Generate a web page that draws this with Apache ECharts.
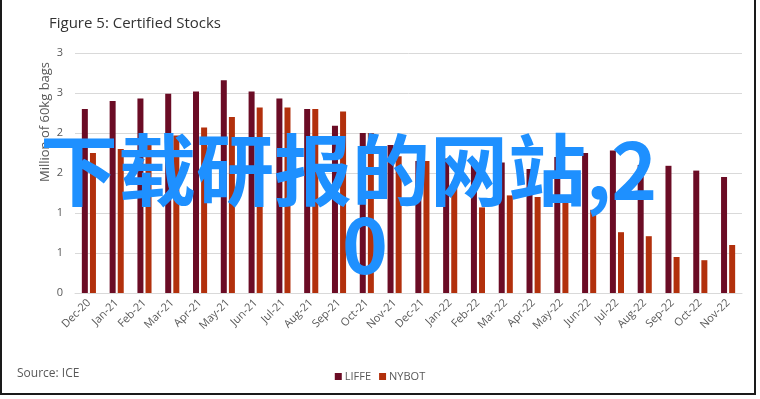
<!DOCTYPE html>
<html>
<head>
<meta charset="utf-8">
<script src="https://cdn.jsdelivr.net/npm/echarts@6/dist/echarts.min.js"></script>
<style>
  html, body { margin: 0; padding: 0; background: #fff; }
  #chart { width: 760px; height: 399px; }
</style>
</head>
<body>
<div id="chart"></div>
<script>
const months = ['Dec-20', 'Jan-21', 'Feb-21', 'Mar-21', 'Apr-21', 'May-21', 'Jun-21', 'Jul-21',
  'Aug-21', 'Sep-21', 'Oct-21', 'Nov-21', 'Dec-21', 'Jan-22', 'Feb-22', 'Mar-22', 'Apr-22',
  'May-22', 'Jun-22', 'Jul-22', 'Aug-22', 'Sep-22', 'Oct-22', 'Nov-22'];
const liffe = [2.30, 2.40, 2.43, 2.49, 2.52, 2.66, 2.52, 2.43, 2.30, 2.09, 2.00, 1.85,
  1.65, 1.68, 1.66, 1.63, 1.55, 1.70, 1.75, 1.78, 1.60, 1.59, 1.53, 1.45];
const nybot = [1.75, 1.80, 1.85, 1.97, 2.07, 2.20, 2.32, 2.32, 2.30, 2.27, 2.00, 1.71,
  1.65, 1.39, 1.07, 1.22, 1.20, 1.15, 1.04, 0.76, 0.71, 0.45, 0.41, 0.60];

const textGray = '#595959';
const font = 'Open Sans, Noto Sans, sans-serif';

const chart = echarts.init(document.getElementById('chart'));
chart.setOption({
  animation: false,
  backgroundColor: '#fff',
  title: {
    text: 'Figure 5: Certified Stocks',
    left: 44,
    top: 11,
    textStyle: {fontFamily: font, fontSize: 15, fontWeight: 'normal', color: '#333'}
  },
  legend: {
    data: ['LIFFE', 'NYBOT'],
    left: 'center',
    top: 366,
    itemWidth: 7,
    itemHeight: 7,
    itemGap: 8,
    icon: 'rect',
    textStyle: {fontFamily: font, fontSize: 11, color: textGray, padding: [0, 0, 0, -2]}
  },
  grid: {left: 75, right: 18, top: 53, bottom: 106},
  xAxis: {
    type: 'category',
    data: months,
    axisLine: {lineStyle: {color: '#d9d9d9'}},
    axisTick: {show: false},
    axisLabel: {interval: 0, rotate: 45, margin: 8, fontFamily: font, fontSize: 11, color: textGray}
  },
  yAxis: {
    type: 'value',
    min: 0,
    max: 3,
    interval: 0.5,
    axisLine: {show: false},
    axisTick: {show: false},
    splitLine: {lineStyle: {color: '#d9d9d9', width: 1}},
    axisLabel: {
      margin: 12,
      fontFamily: font, fontSize: 11, color: textGray,
      formatter: v => Math.round(v)
    }
  },
  series: [
    {
      name: 'LIFFE', type: 'bar', data: liffe,
      barWidth: 6, barGap: '35%',
      itemStyle: {color: '#6b0c25'}
    },
    {
      name: 'NYBOT', type: 'bar', data: nybot,
      barWidth: 6,
      itemStyle: {color: '#b2300c'}
    }
  ],
  graphic: [
    {
      type: 'text', left: 17, top: 368,
      style: {text: 'Source: ICE', font: '12px ' + font, fill: textGray}
    },
    {
      type: 'text', x: 45, y: 122, rotation: Math.PI / 2,
      style: {text: 'Million of 60kg bags', font: '13px ' + font, fill: textGray,
        align: 'center', verticalAlign: 'middle'}
    },
    {
      type: 'rect', silent: true,
      shape: {x: 1, y: -2, width: 754, height: 396},
      style: {fill: 'none', stroke: '#1a1a1a', lineWidth: 2}
    },
    {
      type: 'text', x: 40, y: 170, z: 100,
      style: {text: '下载研报的网站,2', font: 'bold 78px "Noto Sans CJK SC"', fill: '#1e90ff',
        align: 'left', verticalAlign: 'middle'}
    },
    {
      type: 'text', x: 365, y: 244, z: 100,
      style: {text: '0', font: 'bold 78px "Noto Sans CJK SC"', fill: '#1e90ff',
        align: 'center', verticalAlign: 'middle'}
    }
  ]
});
</script>
</body>
</html>
